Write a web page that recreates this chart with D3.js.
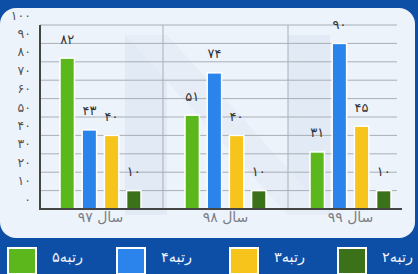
<!DOCTYPE html>
<html>
<head>
<meta charset="utf-8">
<script src="https://cdn.jsdelivr.net/npm/d3@7"></script>
<style>
  body { margin: 0; background: #0d4ea6; }
  svg { display: block; font-family: "DejaVu Sans", sans-serif; }
</style>
</head>
<body>
<script>
// داده‌ها
const years = ['سال ۹۷', 'سال ۹۸', 'سال ۹۹']
const ranks = ['رتبه۵', 'رتبه۴', 'رتبه۳', 'رتبه۲']
const rank5 = [82, 51, 31]
const rank4 = [43, 74, 90]
const rank3 = [40, 40, 45]
const rank2 = [10, 10, 10]
const yTicks = [0, 10, 20, 30, 40, 50, 60, 70, 80, 90, 100]

const colors = ['#5bb71c', '#2a84ec', '#f6c41a', '#3b7219']
const series = [rank5, rank4, rank3, rank2]

const width = 418, height = 274

// ارقام فارسی
const fa = n => String(n).replace(/\d/g, d => '۰۱۲۳۴۵۶۷۸۹'[d])

const svg = d3.select('body').append('svg').attr('width', width).attr('height', height)

// پس‌زمینه آبی و پنل روشن
svg.append('rect').attr('width', width).attr('height', height).attr('fill', '#0d4ea6')
svg.append('rect').attr('x', 0).attr('y', 8).attr('width', 415).attr('height', 230)
    .attr('rx', 16).attr('fill', '#edf3fa')

// واترمارک کم‌رنگ
const wm = svg.append('g').attr('fill', '#e1eaf5')
wm.append('rect').attr('x', 125).attr('y', 35).attr('width', 42).attr('height', 180)
wm.append('rect').attr('x', 288).attr('y', 35).attr('width', 42).attr('height', 180)
wm.append('path').attr('d', 'M125,35 L167,35 L330,215 L288,215 Z').attr('fill', '#e6edf7')

// مقیاس‌ها
const x = d3.scaleBand(years, [38, 413])
const inner = d3.scaleBand(d3.range(series.length), [22, 103]).paddingInner(0.35)
const y = d3.scaleLinear([0, 100], [209, 25])

// خطوط شبکه
svg.append('g').selectAll('line').data(yTicks.filter(d => d > 0)).join('line')
    .attr('x1', 40).attr('x2', 397)
    .attr('y1', d => y(d)).attr('y2', d => y(d))
    .attr('stroke', '#a9afb6').attr('stroke-width', 1)
svg.append('g').selectAll('line').data(years.slice(1)).join('line')
    .attr('x1', d => x(d)).attr('x2', d => x(d))
    .attr('y1', y(100)).attr('y2', y(0))
    .attr('stroke', '#a9afb6').attr('stroke-width', 1)

// برچسب‌های محور y
svg.append('g').selectAll('text').data(yTicks).join('text')
    .attr('x', 31).attr('y', d => y(d) - 9)
    .attr('text-anchor', 'end').attr('dominant-baseline', 'middle')
    .attr('font-size', 12.5).attr('fill', '#555')
    .text(d => fa(d))

// میله‌ها
const groups = svg.append('g').selectAll('g').data(years).join('g')
    .attr('transform', d => `translate(${x(d)},0)`)

groups.each(function (yr, gi) {
    const g = d3.select(this)
    series.forEach((s, si) => {
        g.append('rect')
            .attr('x', inner(si)).attr('width', inner.bandwidth())
            .attr('y', y(s[gi])).attr('height', y(0) - y(s[gi]))
            .attr('fill', colors[si]).attr('stroke', '#ffffff').attr('stroke-width', 1.5)
        g.append('text')
            .attr('x', inner(si) + inner.bandwidth() / 2).attr('y', y(s[gi]) - 18)
            .attr('text-anchor', 'middle').attr('dominant-baseline', 'middle')
            .attr('font-size', 13).attr('fill', '#333')
            .text(fa(s[gi]))
    })
})

// محورها
svg.append('line').attr('x1', 40).attr('x2', 40).attr('y1', y(100)).attr('y2', y(0) + 1)
    .attr('stroke', '#444').attr('stroke-width', 2)
svg.append('line').attr('x1', 39).attr('x2', 402).attr('y1', y(0)).attr('y2', y(0))
    .attr('stroke', '#444').attr('stroke-width', 2)

// برچسب سال‌ها
svg.append('g').selectAll('text').data(years).join('text')
    .attr('x', d => x(d) + x.bandwidth() / 2).attr('y', 218)
    .attr('text-anchor', 'middle').attr('dominant-baseline', 'middle')
    .attr('font-size', 14).attr('fill', '#7a7f86')
    .text(d => d)

// راهنما
const legendX = [8, 117, 230, 338]
const legend = svg.append('g').selectAll('g').data(ranks).join('g')
    .attr('transform', (d, i) => `translate(${legendX[i]},248)`)
legend.append('rect').attr('width', 28).attr('height', 26)
    .attr('fill', (d, i) => colors[i]).attr('stroke', '#ffffff').attr('stroke-width', 2)
legend.append('text').attr('x', 44).attr('y', 10)
    .attr('dominant-baseline', 'middle').attr('font-size', 14.5).attr('fill', '#eef3fb')
    .text(d => d)
</script>
</body>
</html>
